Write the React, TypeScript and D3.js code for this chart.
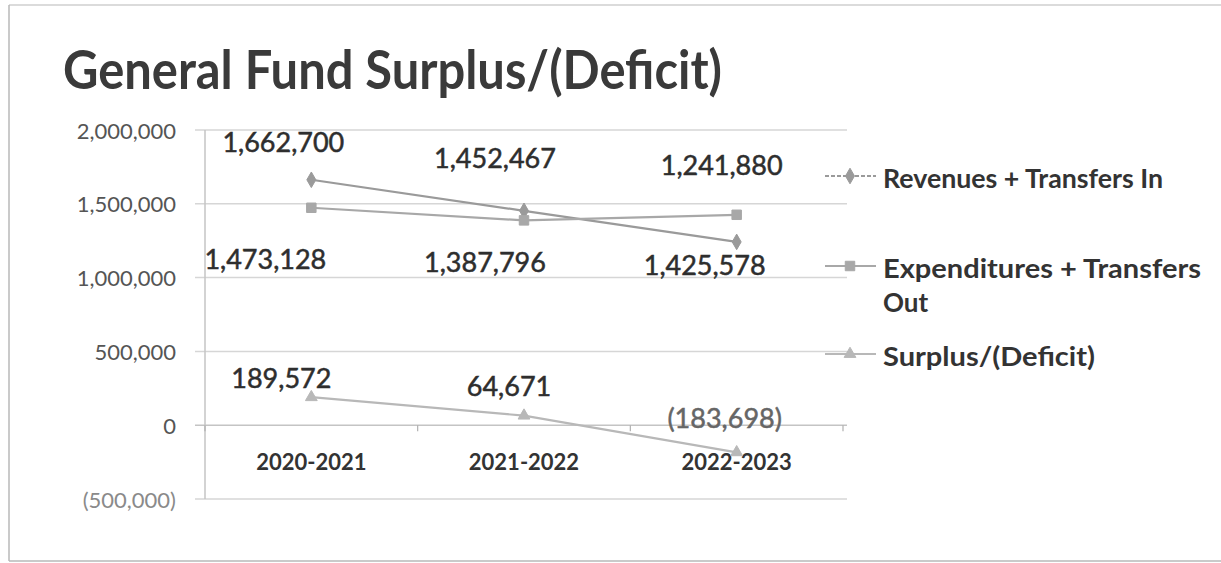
import React from "react";
import * as d3 from "d3";

const categories = ["2020-2021", "2021-2022", "2022-2023"];
const revenues = [1662700, 1452467, 1241880];
const expenditures = [1473128, 1387796, 1425578];
const surplus = [189572, 64671, -183698];
const yTicks = [-500000, 0, 500000, 1000000, 1500000, 2000000];
const seriesNames = ["Revenues + Transfers In", "Expenditures + Transfers Out", "Surplus/(Deficit)"];
const titleText = "General Fund Surplus/(Deficit)";

// label offsets (px) relative to each point, as manually placed in the original
const labelOffsets = [
  [[-28, -38], [-29, -53], [-15, -77]],
  [[-46, 51], [-39, 41], [-32, 50]],
  [[-30, -20], [-15, -30], [-12, -35]],
];

const fmt = (v: number) => {
  const s = d3.format(",")(Math.abs(v));
  return v < 0 ? `(${s})` : s;
};

const FONT = "Lato, 'Open Sans', sans-serif";

export default function App() {
  const W = 1221, H = 563;
  const x = d3.scaleBand<string>().domain(categories).range([205, 843]).padding(0);
  const y = d3.scaleLinear().domain([-500000, 2000000]).range([499, 130]);
  const cx = (c: string) => (x(c) as number) + x.bandwidth() / 2;

  const series = [
    { name: seriesNames[0], values: revenues, color: "#9a9a9a", marker: d3.symbolDiamond, msize: 70 },
    { name: seriesNames[1], values: expenditures, color: "#a8a8a8", marker: d3.symbolSquare, msize: 90 },
    { name: seriesNames[2], values: surplus, color: "#b8b8b8", marker: d3.symbolTriangle, msize: 60 },
  ];

  const line = d3.line<number>().x((_, i) => cx(categories[i])).y((v) => y(v));
  const bounds = [...categories.map((c) => x(c) as number), 843];

  const legendY = [178, 268, 356];

  return (
    <div style={{ position: "absolute", left: 0, top: 0 }}>
      <svg width={W} height={H} style={{ display: "block", background: "#fff" }}>
        {/* outer frame */}
        <line x1={9} x2={1221} y1={5} y2={5} stroke="#cfcfcf" strokeWidth={1.5} />
        <line x1={9} x2={9} y1={5} y2={561} stroke="#b8b8b8" strokeWidth={1.5} />
        <line x1={9} x2={1221} y1={561} y2={561} stroke="#b8b8b8" strokeWidth={1.5} />

        <text x={63} y={89} fontFamily={FONT} fontWeight={700} fontSize={53} fill="#3a3a3a"
          textLength={659} lengthAdjust="spacingAndGlyphs">{titleText}</text>

        {/* gridlines */}
        {yTicks.map((t) => (
          <g key={t}>
            <line x1={195} x2={847} y1={y(t)} y2={y(t)} stroke={t === 0 ? "#c4c4c4" : "#d6d6d6"} strokeWidth={1.5} />
            <text x={176} y={y(t)} textAnchor="end" dominantBaseline="central" fontFamily={FONT}
              fontSize={22} fill={t < 0 ? "#8a8a8a" : "#555"}>{fmt(t)}</text>
          </g>
        ))}
        {/* y axis */}
        <line x1={205} x2={205} y1={y(2000000)} y2={y(-500000)} stroke="#c4c4c4" strokeWidth={1.5} />
        {/* x ticks */}
        {bounds.map((b, i) => (
          <line key={i} x1={b} x2={b} y1={y(0)} y2={y(0) + 6} stroke="#b0b0b0" strokeWidth={1.2} />
        ))}
        {categories.map((c) => (
          <text key={c} x={cx(c)} y={y(0) + 36} textAnchor="middle" dominantBaseline="central"
            fontFamily={FONT} fontWeight={700} fontSize={22} fill="#333">{c}</text>
        ))}

        {/* lines */}
        {series.map((s, si) => (
          <g key={s.name}>
            <path d={line(s.values) || ""} fill="none" stroke={s.color} strokeWidth={2.2} />
            {s.values.map((v, i) => (
              <path key={i} d={d3.symbol().type(s.marker).size(s.msize)() || ""}
                transform={`translate(${cx(categories[i])},${y(v)})`} fill={s.color} stroke={s.color} />
            ))}
            {s.values.map((v, i) => (
              <text key={"l" + i} x={cx(categories[i]) + labelOffsets[si][i][0]} y={y(v) + labelOffsets[si][i][1]}
                textAnchor="middle" dominantBaseline="central" fontFamily={FONT} fontSize={27}
                fill={v < 0 ? "#666" : "#2e2e2e"} stroke={v < 0 ? "#666" : "#2e2e2e"} strokeWidth={0.5}>{fmt(v)}</text>
            ))}
          </g>
        ))}

        {/* legend */}
        {series.map((s, si) => (
          <g key={"lg" + si}>
            <line x1={825} x2={876} y1={legendY[si] - 2} y2={legendY[si] - 2} stroke={s.color} strokeWidth={2}
              strokeDasharray={si === 0 ? "4 2" : undefined} />
            <path d={d3.symbol().type(s.marker).size(s.msize)() || ""}
              transform={`translate(850,${legendY[si] - 2})`} fill={s.color} stroke={s.color} />
          </g>
        ))}
        <text x={883} y={legendY[0]} dominantBaseline="central" fontFamily={FONT} fontWeight={700} fontSize={26}
          fill="#333" textLength={280} lengthAdjust="spacingAndGlyphs">Revenues + Transfers In</text>
        <text x={883} y={legendY[1]} dominantBaseline="central" fontFamily={FONT} fontWeight={700} fontSize={26}
          fill="#333" textLength={318} lengthAdjust="spacingAndGlyphs">Expenditures + Transfers</text>
        <text x={883} y={302} dominantBaseline="central" fontFamily={FONT} fontWeight={700} fontSize={26}
          fill="#333">Out</text>
        <text x={883} y={legendY[2]} dominantBaseline="central" fontFamily={FONT} fontWeight={700} fontSize={26}
          fill="#333" textLength={212} lengthAdjust="spacingAndGlyphs">Surplus/(Deficit)</text>
      </svg>
    </div>
  );
}
